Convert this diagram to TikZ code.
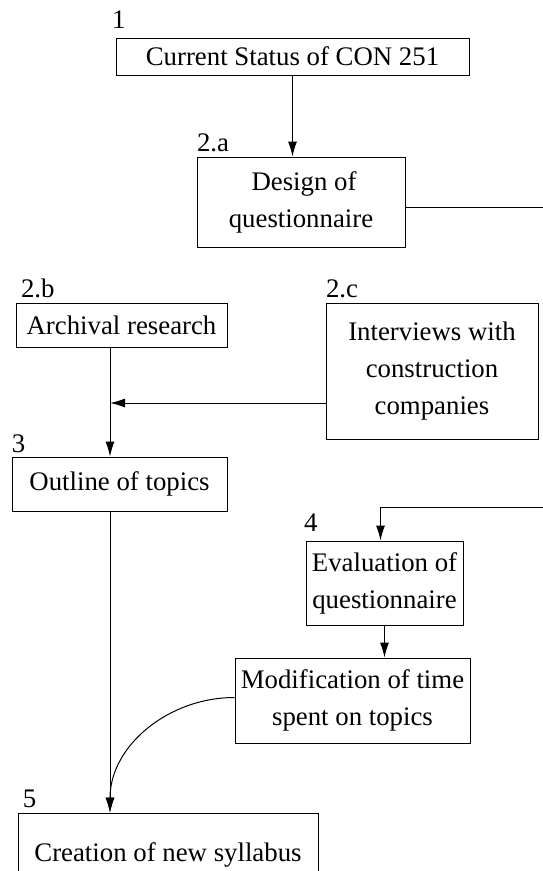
\documentclass[tikz,border=0pt]{standalone}
\usepackage{fontspec}
\setmainfont{Liberation Serif}
\usetikzlibrary{arrows.meta}

\begin{document}
\begin{tikzpicture}[x=1pt, y=-1pt, line width=1pt, every node/.style={font=\fontsize{26.8}{37}\selectfont}, >={Latex[length=15pt,width=9pt]}]
\tikzstyle{box}=[draw, align=center, inner sep=2pt]
\tikzstyle{num}=[inner sep=0pt, anchor=base west]
\useasboundingbox (0,0) rectangle (543,871);
% steps
\node[box, minimum width=353pt, minimum height=37pt] (status) at (292.5,56.5) {Current Status of CON 251};
\node[box, minimum width=208pt, minimum height=90pt] (design) at (301,202) {\hspace*{6pt}Design of\\questionnaire};
\node[box, minimum width=211pt, minimum height=44pt] (archive) at (121.5,325) {Archival research};
\node[box, minimum width=212pt, minimum height=136pt] (interview) at (432,371) {Interviews with\\construction\\companies};
\node[box, minimum width=215pt, minimum height=54pt] (outline) at (119.5,484) {Outline of topics};
\node[box, minimum width=157pt, minimum height=84pt] (eval) at (384.5,583) {Evaluation of\\questionnaire};
\node[box, minimum width=235pt, minimum height=85pt] (modify) at (352.5,700.5) {Modification of time\\spent on topics};
\node[box, minimum width=300pt, minimum height=84pt] (syllabus) at (168,855) {Creation of new syllabus};
% step numbers
\node[num] (n1) at ([xshift=-4pt,yshift=9pt]status.north west) {1};
\node[num] (n2a) at ([yshift=5pt]design.north west) {2.a};
\node[num] (n2b) at ([xshift=5pt,yshift=5pt]archive.north west) {2.b};
\node[num] (n2c) at ([yshift=5pt]interview.north west) {2.c};
\node[num] (n3) at ([yshift=4pt]outline.north west) {3};
\node[num] (n4) at ([xshift=-2pt,yshift=9pt]eval.north west) {4};
\node[num] (n5) at ([xshift=5pt,yshift=5pt]syllabus.north west) {5};
% connectors
\coordinate (join) at (110,403);
\coordinate (offpage) at (570,507);
\draw[->] (status.south) -- (status.south |- design.north);
\draw[->] ([yshift=-5pt]design.east) -| (offpage) -| ([xshift=-4pt]eval.north);
\draw (join |- archive.south) -- (join);
\draw[->] (interview.west |- join) -- (join);
\draw[->] (join) -- (join |- outline.north);
\draw[->] (join |- outline.south) -- (join |- syllabus.north);
\draw[->] (eval.south) -- (eval.south |- modify.north);
\draw[->] ([yshift=3pt]modify.west) to[out=180,in=90] (join |- syllabus.north);
\end{tikzpicture}
\end{document}
